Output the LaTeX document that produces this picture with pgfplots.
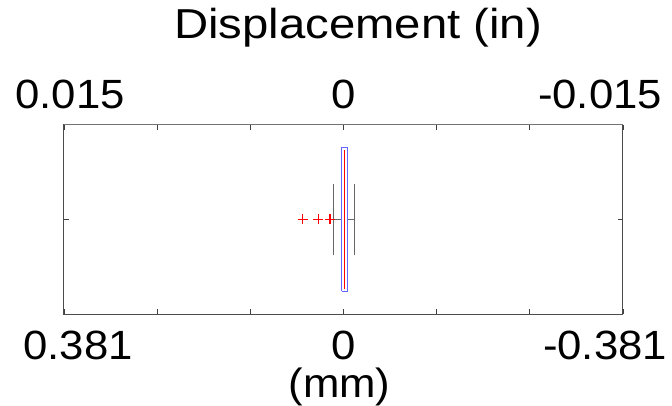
\documentclass[border=0pt]{standalone}
\usepackage{pgfplots}
\pgfplotsset{compat=1.18}
\usepackage{fontspec}
\setmainfont{Liberation Sans}
\newcommand\bigf{\fontsize{41}{48}\selectfont}
\newcommand\titf{\fontsize{42}{50}\selectfont}
\newcommand\lab[2]{\makebox[0pt]{\hspace*{#1}\scalebox{1.07}[1]{#2}}}
\definecolor{boxblue}{RGB}{100,100,255}
\definecolor{medred}{RGB}{255,0,0}
\begin{document}
\begin{tikzpicture}
\path[use as bounding box] (0,0) rectangle (672bp,406bp);
\begin{axis}[at={(64bp,92bp)}, anchor=south west, scale only axis,
  width=559bp, height=189bp,
  xmin=-0.381, xmax=0.381, x dir=reverse, ymin=0.5, ymax=1.5,
  scaled x ticks=false,
  xtick={-0.381,-0.254,-0.127,0,0.127,0.254,0.381},
  xticklabels={\lab{-36bp}{-0.381},,,\lab{0bp}{0},,,\lab{28bp}{0.381}},
  xtick pos=bottom,
  ytick={1}, yticklabels={}, ytick pos=both,
  tick align=inside, major tick length=5bp,
  tick style={black!75, line width=0.8bp},
  axis line style={black!70, line width=1bp},
  xticklabel style={font=\bigf, anchor=base, yshift=-45bp, inner sep=0pt},
  xlabel={\scalebox{1.07}[1]{(mm)}},
  xlabel style={font=\bigf, at={(rel axis cs:0.493,0)}, anchor=base, yshift=-83bp, inner sep=0pt},
  clip=false]
% whiskers
\addplot[black!60, line width=1.1bp] coordinates {(0.00245,1) (0.0139,1)};
\addplot[black!60, line width=1.1bp] coordinates {(-0.0052,1) (-0.0153,1)};
\addplot[black!60, line width=1.1bp] coordinates {(0.0139,0.81) (0.0139,1.19)};
\addplot[black!60, line width=1.1bp] coordinates {(-0.0153,0.81) (-0.0153,1.19)};
% box
\addplot[draw=none, fill=white] coordinates {(0.00245,0.62) (-0.0052,0.62) (-0.0052,1.38) (0.00245,1.38)} -- cycle;
\addplot[color=boxblue, line width=1.2bp] coordinates {(0.00245,0.62) (-0.0052,0.62) (-0.0052,1.38) (0.00245,1.38) (0.00245,0.62)};
% median
\addplot[color=medred, line width=0.6bp] coordinates {(-0.0016,0.63) (-0.0016,1.37)};
% outliers
\addplot[only marks, mark=+, mark size=5bp, color=medred, mark options={draw=medred, line width=1.1bp}] coordinates {(0.0184,1) (0.0344,1) (0.0556,1)};
\end{axis}
\begin{axis}[at={(64bp,92bp)}, anchor=south west, scale only axis,
  width=559bp, height=189bp,
  xmin=-0.015, xmax=0.015, x dir=reverse, ymin=0.5, ymax=1.5,
  scaled x ticks=false,
  axis x line*=top, axis y line=none,
  xtick={-0.015,-0.01,-0.005,0,0.005,0.01,0.015},
  xticklabels={\lab{-46bp}{-0.015},,,\lab{0bp}{0},,,\lab{12bp}{0.015}},
  tick align=inside, major tick length=5bp,
  tick style={black!75, line width=0.8bp},
  axis line style={black!55, line width=1bp},
  xticklabel style={font=\bigf, anchor=base, yshift=16bp, inner sep=0pt},
  title={\scalebox{1.13}[1]{Displacement (in)}},
  title style={font=\titf, at={(rel axis cs:0.526,1)}, anchor=base, yshift=81bp, inner sep=0pt}]
\end{axis}
\end{tikzpicture}
\end{document}
